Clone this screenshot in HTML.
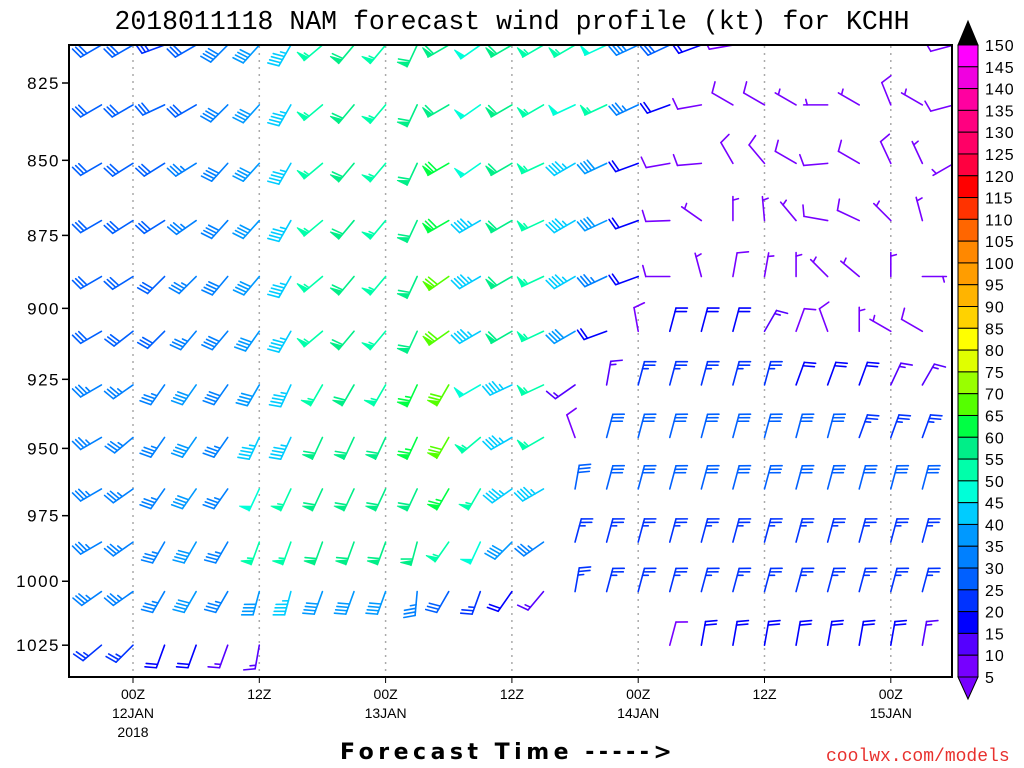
<!DOCTYPE html>
<html><head><meta charset="utf-8"><style>
html,body{margin:0;padding:0;background:#fff;}
svg{display:block;font-family:"Liberation Sans",sans-serif;}
</style></head><body>
<svg id="chart" width="1024" height="768" viewBox="0 0 1024 768">
<defs><clipPath id="plotclip"><rect x="69" y="45" width="883" height="632"/></clipPath></defs>
<text x="512" y="29" text-anchor="middle" font-family="Liberation Mono, monospace" font-size="26.5" fill="#000">2018011118 NAM forecast wind profile (kt) for KCHH</text>
<g id="grid"></g>
<g id="barbs" clip-path="url(#plotclip)"></g>
<rect x="69" y="45" width="883" height="632" fill="none" stroke="#000" stroke-width="2"/>
<g id="yaxis"></g>
<g id="xaxis"></g>
<g id="cbar"></g>
<text x="340" y="759" font-family="DejaVu Sans, sans-serif" font-weight="bold" font-size="22" letter-spacing="4.5" fill="#000">Forecast Time -----&gt;</text>
<text x="826" y="761" font-family="Liberation Mono, monospace" font-size="18" fill="#e8312e">coolwx.com/models</text>
</svg>
<script>
const levels=[813,832,851,870,889,908,927,946,965,985,1004,1025];
const hours=[-3,0,3,6,9,12,15,18,21,24,27,30,33,36,39,42,45,48,51,54,57,60,63,66,69,72,75,78];
const pTicks=[825,850,875,900,925,950,975,1000,1025];
const xTickHours=[0,12,24,36,48,60,72];
const xTickLabels=["00Z","12Z","00Z","12Z","00Z","12Z","00Z"];
const xDateLabels=["12JAN","","13JAN","","14JAN","","15JAN"];
const cbarLevels=[150,145,140,135,130,125,120,115,110,105,100,95,90,85,80,75,70,65,60,55,50,45,40,35,30,25,20,15,10,5];
const cbarColors=["#ff00ff","#f000e0","#ff00a0","#ff0080","#ff0066","#ff0040","#ff0000","#ff3300","#ff6600","#ff8800","#ff9d00","#ffb400","#ffd200","#ffff00","#e0ff00","#99ff00","#55ff00","#00ff44","#00ee88","#00ffaa","#00ffd8","#00ccff","#0099ff","#0080ff","#0060ff","#0033ff","#0000ff","#5500ff","#7700ff"];
const speeds=[
[30,30,28,32,38,40,45,55,60,55,60,60,50,60,55,55,50,35,30,20,10,null,null,null,null,null,null,10],
[30,30,30,32,38,40,45,55,60,55,60,62,50,60,55,50,55,35,20,10,10,8,5,5,5,8,5,10],
[32,32,32,35,38,40,45,55,60,55,60,68,50,60,55,45,40,20,10,10,10,10,10,10,10,10,5,5],
[32,32,32,35,38,40,45,55,60,55,60,68,45,60,55,45,40,20,10,5,5,5,5,10,10,5,3,null],
[32,32,32,35,38,40,45,55,60,55,60,70,45,60,55,45,35,20,10,5,10,5,5,5,5,5,5,null],
[32,32,32,35,38,40,45,55,60,55,60,70,45,60,55,40,20,10,20,20,20,15,10,10,5,5,8,null],
[35,35,35,40,38,40,45,55,60,55,65,70,50,45,55,15,15,25,25,25,25,25,20,20,20,15,15,null],
[35,35,35,40,35,45,45,60,60,60,65,70,55,45,55,10,30,30,30,30,30,30,30,30,25,25,25,null],
[35,35,35,40,35,50,55,60,60,60,60,65,55,45,45,30,30,30,30,30,30,30,30,30,30,30,30,null],
[35,35,35,40,35,55,55,60,60,60,60,55,50,40,35,25,25,25,25,25,25,25,25,25,25,25,25,null],
[35,35,35,40,35,40,45,40,40,40,35,30,25,20,15,25,25,25,25,25,25,25,25,25,25,25,25,null],
[25,25,20,20,15,15,null,null,null,null,null,null,null,null,null,null,null,null,10,20,20,20,20,20,20,20,15,null]
];
const dirs=[
[240,240,250,240,225,222,210,230,220,220,205,240,235,240,240,240,245,245,245,250,260,null,null,null,null,null,null,255],
[240,240,245,240,225,222,210,230,220,220,205,240,235,240,240,245,245,245,250,260,300,300,300,270,300,338,300,255],
[240,238,238,238,222,222,210,230,220,220,205,240,235,240,245,240,245,250,260,265,330,320,300,265,300,335,335,240],
[240,238,238,235,222,222,210,230,220,220,205,240,240,240,245,240,245,250,268,305,0,355,320,280,295,315,345,null],
[240,238,225,225,220,220,210,230,220,220,205,235,240,240,245,240,245,250,270,345,10,10,0,315,310,0,90,null],
[240,232,225,220,220,215,210,230,220,220,205,235,240,240,245,240,250,350,15,15,15,30,20,340,0,300,300,null],
[240,235,215,215,215,210,205,210,210,210,205,210,240,245,245,235,10,15,15,15,15,15,20,20,20,25,30,null],
[240,230,215,215,215,205,205,205,205,205,205,210,230,240,240,340,15,15,15,15,15,15,15,15,20,20,20,null],
[240,235,215,215,215,205,205,205,205,205,205,210,210,235,240,10,15,15,15,15,15,15,15,15,15,15,15,null],
[240,235,210,210,210,200,200,200,200,200,195,215,205,225,235,15,15,15,15,15,15,15,15,15,15,15,15,null],
[235,235,210,210,210,195,195,200,200,200,185,210,200,215,220,10,15,15,15,15,15,15,15,15,15,15,15,null],
[230,225,200,200,200,190,null,null,null,null,null,null,null,null,null,null,null,null,15,10,10,10,10,10,10,10,10,null]
];

const NS="http://www.w3.org/2000/svg";
function yOf(p){return 83+2590*(Math.log(p)-Math.log(825));}
function xOf(h){return 133+h*126.3/12;}
function colorOf(s){
  const v=s-5;
  for(let i=cbarLevels.length-2;i>=0;i--){ if(v<cbarLevels[i]) return cbarColors[i]; }
  return cbarColors[0];
}
function mk(tag,attrs,parent){const e=document.createElementNS(NS,tag);for(const k in attrs)e.setAttribute(k,attrs[k]);parent.appendChild(e);return e;}

const grid=document.getElementById('grid');
xTickHours.forEach(h=>{
  const l=mk('line',{x1:xOf(h),x2:xOf(h),y1:46,y2:676,stroke:'#aaa','stroke-width':1.5,'stroke-dasharray':'2,5'},grid);
  
  
});

const ya=document.getElementById('yaxis');
pTicks.forEach(p=>{
  const y=yOf(p);
  const t=mk('line',{x1:62,x2:69,y1:y,y2:y,stroke:'#000','stroke-width':1.5},ya);
  
  
  const tx=mk('text',{x:60,y:y+6,'text-anchor':'end','font-size':17,'letter-spacing':'1.5',fill:'#000'},ya);
  tx.textContent=p;
  
  
});

const xa=document.getElementById('xaxis');
xTickHours.forEach((h,i)=>{
  const x=xOf(h);
  const t=mk('line',{x1:x,x2:x,y1:677,y2:683,stroke:'#000','stroke-width':1},xa);
  
  
  const a=mk('text',{x:x,y:699,'text-anchor':'middle','font-size':14,fill:'#000'},xa);
  a.textContent=xTickLabels[i];
  
  
  if(xDateLabels[i]){
    const b=mk('text',{x:x,y:718,'text-anchor':'middle','font-size':14,fill:'#000'},xa);
    b.textContent=xDateLabels[i];
    
    
  }
});
const yr=mk('text',{x:xOf(0),y:737,'text-anchor':'middle','font-size':14,fill:'#000'},xa);
yr.textContent='2018';



const cb=document.getElementById('cbar');
const cTop=45,cBot=677,cx=958,cw=20,bh=(cBot-cTop)/(cbarLevels.length-1);
cbarColors.forEach((c,i)=>{
  const r=mk('rect',{x:cx,y:cTop+i*bh,width:cw,height:bh,fill:c,stroke:'#000','stroke-width':1},cb);
  
  
});
const tt=mk('polygon',{points:`${cx},${cTop} ${cx+cw},${cTop} ${cx+cw/2},${cTop-24}`,fill:'#000',stroke:'#000'},cb);


const tb=mk('polygon',{points:`${cx},${cBot} ${cx+cw},${cBot} ${cx+cw/2},${cBot+22}`,fill:'#7700ff',stroke:'#000'},cb);


cbarLevels.forEach((v,i)=>{
  const t=mk('text',{x:985,y:cTop+i*bh+6,'font-size':16,'letter-spacing':'1',fill:'#000'},cb);
  t.textContent=v;
  
  
});

const bg=document.getElementById('barbs');
const L=24,F=11,SP=3.6;
for(let r=0;r<levels.length;r++){
  for(let c=0;c<hours.length;c++){
    const s=speeds[r][c],d=dirs[r][c];
    if(s==null||d==null) continue;
    const bx=xOf(hours[c]),by=yOf(levels[r]);
    const rad=d*Math.PI/180;
    const ux=Math.sin(rad),uy=-Math.cos(rad);
    const px=-uy,py=ux;
    const col=colorOf(s);
    const g=mk('g',{stroke:col,fill:col,'stroke-width':1.6,'stroke-linecap':'round'},bg);
    
    
    const tx=bx+ux*L,ty=by+uy*L;
    mk('line',{x1:bx,y1:by,x2:tx,y2:ty},g);
    let rem=Math.round(s/5)*5;
    let pos=0;
    while(rem>=50){
      const ax=tx-ux*pos,ay=ty-uy*pos;
      const bx2=tx-ux*(pos+5),by2=ty-uy*(pos+5);
      mk('polygon',{points:`${ax},${ay} ${ax+px*F},${ay+py*F} ${bx2},${by2}`,'stroke-width':1},g);
      pos+=6.5;rem-=50;
    }
    while(rem>=10){
      const ax=tx-ux*pos,ay=ty-uy*pos;
      mk('line',{x1:ax,y1:ay,x2:ax+px*F+ux*3,y2:ay+py*F+uy*3},g);
      pos+=SP;rem-=10;
    }
    if(rem>=5){
      if(pos===0) pos=SP;
      const ax=tx-ux*pos,ay=ty-uy*pos;
      mk('line',{x1:ax,y1:ay,x2:ax+px*F*0.5+ux*1.5,y2:ay+py*F*0.5+uy*1.5},g);
    }
  }
}
</script>
</body></html>
